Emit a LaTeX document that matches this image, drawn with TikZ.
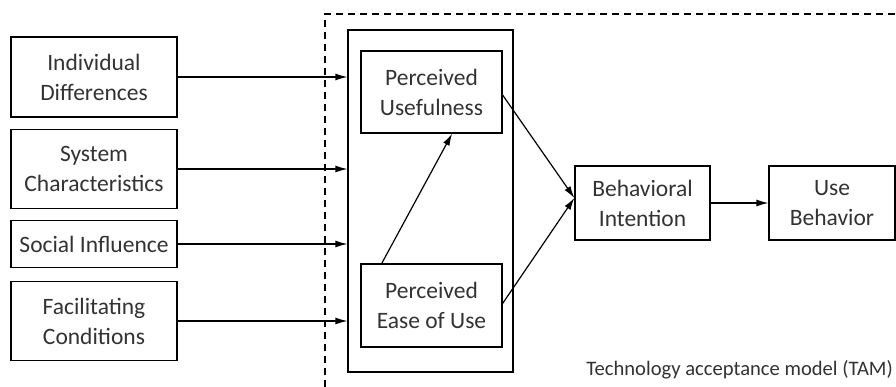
\documentclass[tikz,border=0pt]{standalone}
\usepackage{fontspec}
\setmainfont{Carlito}
\usetikzlibrary{arrows.meta,calc}
\definecolor{txt}{HTML}{333333}
\tikzset{
  box/.style={draw=black, line width=1.2pt, rectangle, inner sep=0pt, align=center,
    text=txt, font=\fontsize{23.5}{30}\selectfont},
  arr/.style={line width=1.2pt, -{Latex[length=12pt,width=7pt]}},
  frame/.style={draw=black, line width=1.2pt, dash pattern=on 7pt off 5pt}
}
\begin{document}
\begin{tikzpicture}[x=1pt,y=-1pt]
\useasboundingbox (0,0) rectangle (896,387);
\fill[white] (0,0) rectangle (896,387);

% TAM boundary (open to the right and bottom)
\draw[frame] (325,387) -- (325,14) -- (896,14);

% external variables
\node[box, minimum width=166pt, minimum height=80pt] (ind) at (94,77) {Individual\\Differences};
\node[box, minimum width=166pt, minimum height=79pt] (sys) at (94,169) {System\\Characteristics};
\node[box, minimum width=166pt, minimum height=47pt] (soc) at (94,244) {Social Influence};
\node[box, minimum width=166pt, minimum height=79pt] (fac) at (94,321) {Facilitating\\Conditions};

% perceptions group
\node[box, minimum width=165pt, minimum height=342pt] (grp) at (430.5,201) {};
\node[box, minimum width=141pt, minimum height=82pt] (pu) at (431.5,92) {Perceived\\Usefulness};
\node[box, minimum width=141pt, minimum height=83pt] (peou) at (431.5,305.5) {Perceived\\Ease of Use};

% outcomes
\node[box, minimum width=135pt, minimum height=74pt] (bi) at (642.5,203) {Behavioral\\Intention};
\node[box, minimum width=126pt, minimum height=74pt] (ub) at (832,203) {Use\\Behavior};

\node[anchor=base east, text=txt, font=\fontsize{20.6}{24}\selectfont, inner sep=0pt] (tam) at (893,375) {Technology acceptance model (TAM)};

% connectors
\foreach \n in {ind,sys,soc,fac}
  \draw[arr] (\n.east) -- (\n.east -| grp.west);

\coordinate (bin) at ($(bi.west)+(0,-5)$);
\draw[arr] ($(peou.north west)!0.15!(peou.north east)$) -- ($(pu.south west)!0.645!(pu.south east)$);
\draw[arr] ($(pu.east)+(0,3)$) -- (bin);
\draw[arr] ($(peou.east)+(0,-2)$) -- (bin);
\draw[arr] (bi.east) -- (ub.west);
\end{tikzpicture}
\end{document}
